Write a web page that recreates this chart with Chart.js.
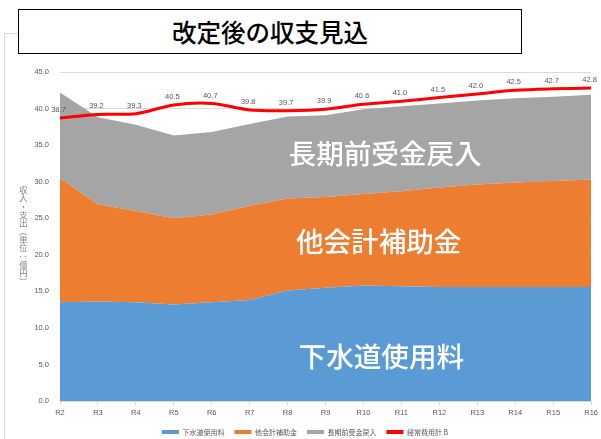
<!DOCTYPE html>
<html>
<head>
<meta charset="utf-8">
<script src="https://cdn.jsdelivr.net/npm/chart.js@4"></script>
<style>
html,body{margin:0;padding:0;background:#fff;}
#wrap{position:relative;width:601px;height:439px;overflow:hidden;background:#fff;}
#frame{position:absolute;left:4px;top:33px;width:60px;height:420px;border-left:1px solid #d9d9d9;border-top:1px solid #d9d9d9;}
#c{position:absolute;left:0;top:0;}
#title{position:absolute;left:18px;top:9px;width:502px;height:43px;border:1.5px solid #000;background:#fff;
  font-family:'Noto Sans CJK JP',sans-serif;font-size:24.5px;font-weight:500;line-height:43px;text-align:center;color:#000;}
</style>
</head>
<body>
<div id="wrap">
  <div id="frame"></div>
  <canvas id="c" width="601" height="439"></canvas>
  <div id="title">改定後の収支見込</div>
</div>
<script>
// ---- data ----
const categories = ['R2','R3','R4','R5','R6','R7','R8','R9','R10','R11','R12','R13','R14','R15','R16'];
const sewerFees = [13.5,13.6,13.5,13.2,13.5,13.8,15.1,15.5,15.8,15.7,15.6,15.6,15.6,15.6,15.6];
const otherAccountSubsidy = [17.0,13.3,12.5,11.8,12.0,12.9,12.6,12.4,12.5,13.0,13.6,14.0,14.3,14.5,14.7];
const deferredRevenue = [11.7,11.9,11.8,11.3,11.3,11.2,11.2,11.2,11.6,11.6,11.5,11.5,11.5,11.5,11.6];
const recurringCosts = [38.7,39.2,39.3,40.5,40.7,39.8,39.7,39.9,40.6,41.0,41.5,42.0,42.5,42.7,42.8];
const seriesNames = ['下水道使用料','他会計補助金','長期前受金戻入','経常費用計 B'];
const yAxisTitle = '収入・支出（単位：億円）';
const yMin = 0, yMax = 45, yStep = 5;

const LATIN = '"Liberation Sans","Noto Sans CJK JP",sans-serif';
const CJK = '"Noto Sans CJK JP",sans-serif';

const areaLabels = [
  {text: seriesNames[2], at: 8.57, value: 33.8},
  {text: seriesNames[1], at: 8.40, value: 21.8},
  {text: seriesNames[0], at: 8.47, value: 6.06}
];

const valueLabelPlugin = {
  id: 'valueLabels',
  afterDatasetsDraw(chart) {
    const ctx = chart.ctx;
    const xs = chart.scales.x, ys = chart.scales.y;
    ctx.save();
    ctx.fillStyle = '#ffffff';
    ctx.textAlign = 'center';
    ctx.textBaseline = 'middle';
    ctx.font = '500 27.6px ' + CJK;
    areaLabels.forEach(l => {
      ctx.fillText(l.text, xs.getPixelForValue(l.at), ys.getPixelForValue(l.value));
    });
    const meta = chart.getDatasetMeta(3);
    ctx.fillStyle = '#595959';
    ctx.font = '7.5px ' + LATIN;
    meta.data.forEach((pt, i) => {
      ctx.fillText(recurringCosts[i].toFixed(1), pt.x - 1.5, pt.y - 8);
    });
    ctx.restore();
  }
};

// vertical (stacked, upright) axis title
const verticalTitle = {
  id: 'verticalTitle',
  afterDraw(chart) {
    const ctx = chart.ctx;
    const ys = chart.scales.y;
    const chars = Array.from(yAxisTitle);
    const step = 8.35;
    const cx = 23.5;
    const midY = ys.getPixelForValue(22.6);
    let y = midY - step * chars.length / 2 + step / 2;
    ctx.save();
    ctx.fillStyle = '#7f7f7f';
    ctx.font = '8.3px ' + CJK;
    ctx.textAlign = 'center';
    ctx.textBaseline = 'middle';
    chars.forEach(ch => {
      if ('（）：'.includes(ch)) {
        ctx.save();
        ctx.translate(cx, y);
        ctx.rotate(Math.PI / 2);
        ctx.fillText(ch, 0, 0);
        ctx.restore();
      } else {
        ctx.fillText(ch, cx, y);
      }
      y += step;
    });
    ctx.restore();
  }
};

const layoutTweak = {
  id: 'layoutTweak',
  afterLayout(chart) {
    const l = chart.legend;
    l.top += 6.5; l.bottom += 6.5;
    l.left += 7; l.right += 7;
    chart.scales.x.bottom = chart.height;
  }
};

new Chart(document.getElementById('c'), {
  type: 'line',
  data: {
    labels: categories,
    datasets: [
      {label: seriesNames[0], data: sewerFees, stack: 'income', fill: 'origin',
       backgroundColor: '#5B9BD5', borderColor: '#5B9BD5', borderWidth: 0, pointRadius: 0, tension: 0, order: 1},
      {label: seriesNames[1], data: otherAccountSubsidy, stack: 'income', fill: '-1',
       backgroundColor: '#ED7D31', borderColor: '#ED7D31', borderWidth: 0, pointRadius: 0, tension: 0, order: 1},
      {label: seriesNames[2], data: deferredRevenue, stack: 'income', fill: '-1',
       backgroundColor: '#A5A5A5', borderColor: '#A5A5A5', borderWidth: 0, pointRadius: 0, tension: 0, order: 1},
      {label: seriesNames[3], data: recurringCosts, stack: 'cost', fill: false,
       backgroundColor: '#FF0000', borderColor: '#FF0000', borderWidth: 3, pointRadius: 0, tension: 0.3, order: 0}
    ]
  },
  options: {
    responsive: false,
    animation: false,
    devicePixelRatio: 1,
    layout: {padding: {top: 72, left: 0, right: 5, bottom: 0}},
    scales: {
      x: {
        offset: false,
        grid: {display: true, drawOnChartArea: false, drawTicks: true, tickLength: 4, color: '#D9D9D9'},
        border: {display: true, color: '#D9D9D9'},
        ticks: {color: '#595959', font: {family: LATIN, size: 7.5}, padding: 3, maxRotation: 0, autoSkip: false},
        afterFit(s) { s.height = 11; }
      },
      y: {
        stacked: true,
        min: yMin, max: yMax,
        grid: {color: '#D9D9D9', drawTicks: false},
        border: {display: false},
        ticks: {stepSize: yStep, color: '#595959', font: {family: LATIN, size: 7.5}, padding: 11,
                callback: v => Number(v).toFixed(1)},
        afterFit(s) { s.width = 60; }
      }
    },
    plugins: {
      legend: {
        position: 'bottom',
        labels: {
          boxWidth: 17, boxHeight: 4, padding: 10, color: '#595959',
          font: {family: CJK, size: 7},
          sort: (a, b) => a.datasetIndex - b.datasetIndex,
          generateLabels(chart) {
            const items = Chart.defaults.plugins.legend.labels.generateLabels(chart);
            items.forEach(it => { it.lineWidth = 0; });
            return items;
          }
        }
      },
      tooltip: {enabled: false},
      title: {display: false}
    }
  },
  plugins: [valueLabelPlugin, verticalTitle, layoutTweak]
});
</script>
</body>
</html>
